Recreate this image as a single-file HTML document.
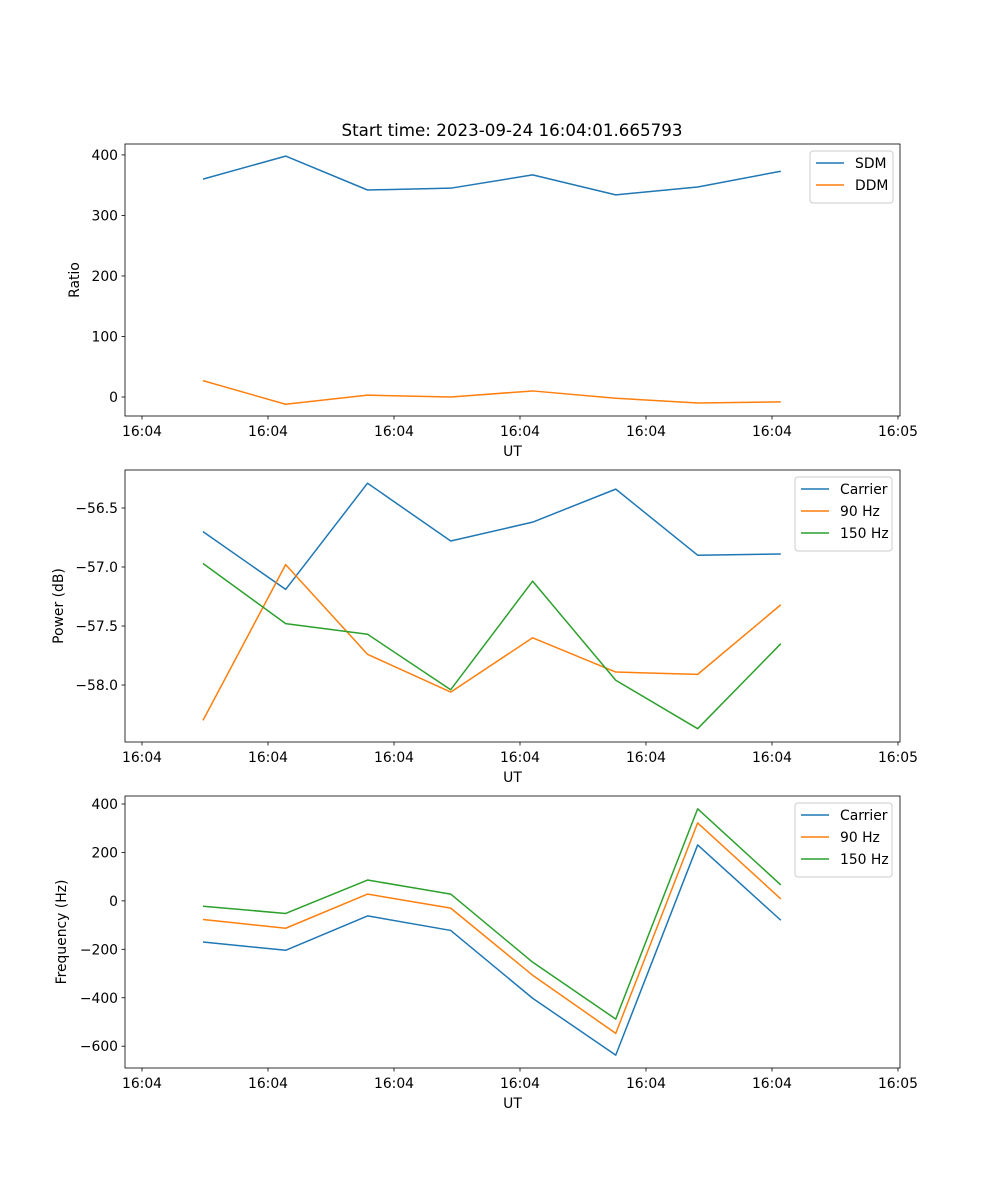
<!DOCTYPE html>
<html><head><meta charset="utf-8">
<style>
body{margin:0;background:#fff;}
svg{display:block;font-family:"DejaVu Sans","Liberation Sans",sans-serif;}
</style></head>
<body>
<svg id="fig" width="1000" height="1200" viewBox="0 0 1000 1200">
<text x="512" y="136" font-size="16.7" text-anchor="middle">Start time: 2023-09-24 16:04:01.665793</text>
</svg>
<script>
const times = [4.84, 11.4, 17.9, 24.5, 31.0, 37.6, 44.1, 50.7];
const xTickValues = [0, 10, 20, 30, 40, 50, 60];
const xTickLabels = ["16:04","16:04","16:04","16:04","16:04","16:04","16:05"];
const sdm = [360, 398, 342, 345, 367, 334, 347, 373];
const ddm = [27, -12, 3, 0, 10, -2, -10, -8];
const pCarrier = [-56.70, -57.19, -56.29, -56.78, -56.62, -56.34, -56.90, -56.89];
const p90 = [-58.30, -56.98, -57.74, -58.06, -57.60, -57.89, -57.91, -57.32];
const p150 = [-56.97, -57.48, -57.57, -58.04, -57.12, -57.96, -58.37, -57.65];
const fCarrier = [-170, -204, -62, -122, -402, -637, 231, -80];
const f90 = [-77, -113, 28, -30, -307, -547, 322, 8];
const f150 = [-22, -52, 86, 28, -253, -488, 380, 66];
const ratioTicks = [0, 100, 200, 300, 400];
const powerTicks = [-58.0, -57.5, -57.0, -56.5];
const powerTickLabels = ["\u221258.0","\u221257.5","\u221257.0","\u221256.5"];
const freqTicks = [-600, -400, -200, 0, 200, 400];
const freqTickLabels = ["\u2212600","\u2212400","\u2212200","0","200","400"];

const NS = "http://www.w3.org/2000/svg";
const fig = document.getElementById("fig");
const X0 = 125, X1 = 900, T0 = -1.35, T1 = 60.16;
function xs(t){ return X0 + (t - T0) / (T1 - T0) * (X1 - X0); }
function mk(tag, attrs, parent){
  const e = document.createElementNS(NS, tag);
  for (const k in attrs) e.setAttribute(k, attrs[k]);
  (parent || fig).appendChild(e);
  return e;
}
const colors = {blue:"#1f77b4", orange:"#ff7f0e", green:"#2ca02c"};
const FS = 13.9;

function panel(name, top, bottom, ymin, ymax, yticks, ylabels, ylabel, ylabelX, series, legend){
  const g = mk("g", {});
  
  
  const ys = v => bottom - (v - ymin) / (ymax - ymin) * (bottom - top);
  series.forEach(s => {
    const pts = times.map((t,i) => xs(t).toFixed(2) + "," + ys(s.vals[i]).toFixed(2)).join(" ");
    const pl = mk("polyline", {points: pts, fill: "none", stroke: s.color, "stroke-width": 1.5, "stroke-linejoin":"round"}, g);
    
    
  });
  const fr = mk("rect", {x: X0, y: top, width: X1 - X0, height: bottom - top, fill: "none", stroke: "#000", "stroke-width": 0.8}, g);
  
  
  xTickValues.forEach((v,i) => {
    const x = xs(v);
    mk("line", {x1: x, x2: x, y1: bottom, y2: bottom + 3.5, stroke: "#000", "stroke-width": 0.8}, g);
    const t = mk("text", {x: x, y: bottom + 20, "font-size": FS, "text-anchor": "middle"}, g);
    t.textContent = xTickLabels[i];
    
    
  });
  const xl = mk("text", {x: (X0 + X1) / 2, y: bottom + 40, "font-size": FS, "text-anchor": "middle"}, g);
  xl.textContent = "UT";
  
  
  yticks.forEach((v,i) => {
    const y = ys(v);
    mk("line", {x1: X0 - 3.5, x2: X0, y1: y, y2: y, stroke: "#000", "stroke-width": 0.8}, g);
    const t = mk("text", {x: X0 - 7, y: y + 5, "font-size": FS, "text-anchor": "end"}, g);
    t.textContent = ylabels[i];
    
    
  });
  const cy = (top + bottom) / 2;
  const yl = mk("text", {x: ylabelX, y: cy, "font-size": FS, "text-anchor": "middle", transform: `rotate(-90 ${ylabelX} ${cy})`}, g);
  yl.textContent = ylabel;
  
  
  const lg = mk("g", {}, g);
  
  
  mk("rect", {x: legend.x, y: legend.y, width: legend.w, height: 8 + 22 * series.length, rx: 3, fill: "#fff", "fill-opacity": 0.8, stroke: "#ccc", "stroke-width": 1}, lg);
  series.forEach((s,i) => {
    const ly = legend.y + 12 + 22 * i;
    mk("line", {x1: legend.x + 6, x2: legend.x + 34, y1: ly, y2: ly, stroke: s.color, "stroke-width": 1.5}, lg);
    const t = mk("text", {x: legend.x + 45, y: ly + 5, "font-size": FS}, lg);
    t.textContent = s.label;
    
    
  });
}

panel("ratio-panel", 144, 416, -31.4, 418, ratioTicks, ratioTicks.map(String), "Ratio", 79,
  [{name:"sdm-line", label:"SDM", vals: sdm, color: colors.blue},
   {name:"ddm-line", label:"DDM", vals: ddm, color: colors.orange}],
  {x: 810, y: 151, w: 83});
panel("power-panel", 470, 742, -58.483, -56.178, powerTicks, powerTickLabels, "Power (dB)", 63,
  [{name:"power-carrier-line", label:"Carrier", vals: pCarrier, color: colors.blue},
   {name:"power-90hz-line", label:"90 Hz", vals: p90, color: colors.orange},
   {name:"power-150hz-line", label:"150 Hz", vals: p150, color: colors.green}],
  {x: 795, y: 477, w: 97});
panel("frequency-panel", 796, 1068, -690, 433, freqTicks, freqTickLabels, "Frequency (Hz)", 66,
  [{name:"freq-carrier-line", label:"Carrier", vals: fCarrier, color: colors.blue},
   {name:"freq-90hz-line", label:"90 Hz", vals: f90, color: colors.orange},
   {name:"freq-150hz-line", label:"150 Hz", vals: f150, color: colors.green}],
  {x: 795, y: 803, w: 97});
</script>
</body></html>
